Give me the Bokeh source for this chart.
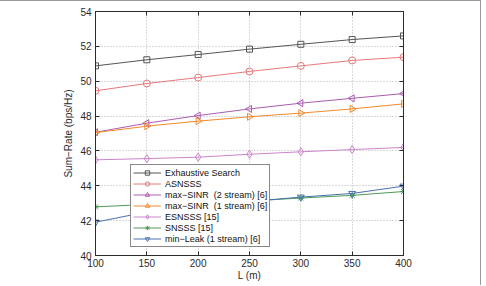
import numpy as np
from bokeh.plotting import figure
from bokeh.models import (FixedTicker, LinearAxis, Legend, Label, Range1d,
                          CustomJSTickFormatter)
from bokeh.embed import file_html
from bokeh.resources import INLINE

# Distance L (m)
L = [100, 150, 200, 250, 300, 350, 400]

# Sum-rate (bps/Hz) per scheme
exhaustive = [50.88, 51.23, 51.53, 51.84, 52.12, 52.39, 52.60]
asnsss = [49.45, 49.87, 50.21, 50.56, 50.88, 51.19, 51.38]
maxsinr_2 = [47.07, 47.59, 48.03, 48.41, 48.74, 49.02, 49.29]
maxsinr_1 = [47.05, 47.42, 47.71, 47.96, 48.17, 48.41, 48.70]
esnsss = [45.49, 45.56, 45.64, 45.81, 45.95, 46.08, 46.20]
snsss = [42.79, 42.93, 43.00, 43.12, 43.30, 43.45, 43.67]
minleak = [41.91, 42.50, 42.85, 43.10, 43.35, 43.56, 43.98]

x_ticks = [100, 150, 200, 250, 300, 350, 400]
y_ticks = [40, 42, 44, 46, 48, 50, 52, 54]

FONT = "Liberation Sans"
AX = "#2b2b2b"

p = figure(width=481, height=285, output_backend="svg", toolbar_location=None,
           x_range=Range1d(100, 400), y_range=Range1d(40, 54),
           min_border_left=95, min_border_right=78, min_border_top=10,
           min_border_bottom=31,
           x_axis_label="L (m)", y_axis_label="Sum\u2212Rate (bps/Hz)",
           styles={"border-top": "1px solid #9a9a9a",
                   "border-right": "1px solid #9a9a9a"})
p.background_fill_color = "white"
p.border_fill_color = "white"
p.outline_line_color = AX
p.outline_line_width = 1

for ax in (p.xaxis[0], p.yaxis[0]):
    ax.axis_line_color = AX
    ax.major_tick_line_color = AX
    ax.major_tick_in = 4
    ax.major_tick_out = 0
    ax.minor_tick_line_color = None
    ax.major_label_text_font = FONT
    ax.major_label_text_font_size = "10px"
    ax.major_label_text_color = AX
    ax.axis_label_text_font = FONT
    ax.axis_label_text_font_size = "10px"
    ax.axis_label_text_font_style = "normal"
    ax.axis_label_text_color = AX
    ax.major_label_standoff = 3

p.xaxis[0].ticker = FixedTicker(ticks=x_ticks)
p.yaxis[0].ticker = FixedTicker(ticks=y_ticks)
p.xaxis[0].axis_label_standoff = 0
p.yaxis[0].axis_label_standoff = 3
p.yaxis[0].major_label_standoff = 4

# Mirror ticks (no labels) on the top and right edges of the box
blank = CustomJSTickFormatter(code="return '';")
for side, ticks in (("right", y_ticks), ("above", x_ticks)):
    a = LinearAxis(ticker=FixedTicker(ticks=ticks), formatter=blank)
    a.major_label_standoff = 0
    a.major_tick_in = 4
    a.major_tick_out = 0
    a.minor_tick_line_color = None
    a.axis_line_color = AX
    a.major_tick_line_color = AX
    p.add_layout(a, side)

p.grid.grid_line_color = "#b5b5b5"
p.grid.grid_line_dash = "1 2"
p.grid.grid_line_width = 1
p.xgrid.ticker = FixedTicker(ticks=x_ticks)
p.ygrid.ticker = FixedTicker(ticks=y_ticks)

series = [
    ("Exhaustive Search", exhaustive, "#555555", "square", 0.0, 6),
    ("ASNSSS", asnsss, "#e8787a", "circle", 0.0, 7),
    ("max\u2212SINR  (2 stream) [6]", maxsinr_2, "#ad5cb0", "triangle", np.pi / 2, 7),
    ("max\u2212SINR  (1 stream) [6]", maxsinr_1, "#f08a2c", "triangle", -np.pi / 2, 7),
    ("ESNSSS [15]", esnsss, "#cc84cc", "diamond", 0.0, 8),
    ("SNSSS [15]", snsss, "#4e9a57", "asterisk", 0.0, 7),
    ("min\u2212Leak (1 stream) [6]", minleak, "#4a70b0", "inverted_triangle", 0.0, 7),
]

items = []
for label, ys, color, marker, ang, size in series:
    ln = p.line(L, ys, line_color=color, line_width=1)
    sc = p.scatter(L, ys, marker=marker, size=size, angle=ang,
                   line_color=color, fill_alpha=0, line_width=1)
    items.append((label, [ln, sc]))

legend = Legend(items=items, location=(35, 8))
legend.label_text_font = FONT
legend.label_text_font_size = "9px"
legend.label_text_color = "#111111"
legend.label_height = 11
legend.glyph_height = 11
legend.glyph_width = 28
legend.spacing = 0
legend.padding = 2
legend.margin = 0
legend.label_standoff = 4
legend.border_line_color = "#111111"
legend.border_line_width = 1
legend.background_fill_alpha = 1.0
p.add_layout(legend, "center")

# Figure caption along the bottom edge (positions relative to the frame)
cap = Label(x=-89, y=-31, x_units="screen", y_units="screen",
            text="Fig. 11  Scenario D: Sum-rate vs distance L between 100 to 400 m",
            text_font=FONT, text_font_size="6px", text_color="#8a8a8a")
p.add_layout(cap)

open("out.html", "w").write(file_html(p, INLINE))
